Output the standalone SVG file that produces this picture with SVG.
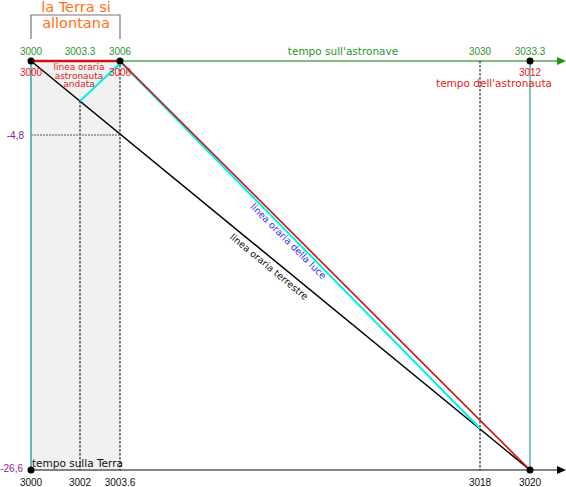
<svg xmlns="http://www.w3.org/2000/svg" width="566" height="487" viewBox="0 0 566 487">
<style>
.num{font-family:"Liberation Sans",Arial,sans-serif;font-size:10px;text-anchor:middle}
.lbl{font-family:"DejaVu Sans",Verdana,sans-serif}
.end{text-anchor:end}
.g{fill:#2b962b}
.r{fill:#dd1c1c}
.p{fill:#8b1a8b}
.k{fill:#111}
.dash{stroke:#000;stroke-width:1;stroke-dasharray:2.5,1.5;fill:none}
.dot{fill:#000}
</style>
<defs>
<marker id="arrG" markerWidth="10" markerHeight="10" refX="0" refY="4" orient="auto" markerUnits="userSpaceOnUse"><path d="M0,0 L9,4 L0,8 Z" fill="#1e961e"/></marker>
<marker id="arrK" markerWidth="10" markerHeight="10" refX="0" refY="4" orient="auto" markerUnits="userSpaceOnUse"><path d="M0,0 L9,4 L0,8 Z" fill="#000"/></marker>
</defs>
<rect width="566" height="487" fill="#fff"/>
<g id="background">
<rect x="31" y="61" width="89" height="409" fill="#f1f1f1"/>
</g>
<g id="axes">
<line x1="31" y1="61" x2="557" y2="61" stroke="#7dbd7d" stroke-width="2" marker-end="url(#arrG)"/>
<line x1="31" y1="470" x2="557" y2="470" stroke="#5a5a5a" stroke-width="1.5" marker-end="url(#arrK)"/>
<line x1="31" y1="61" x2="31" y2="470" stroke="#3aa6a6" stroke-width="1.5"/>
<line x1="530" y1="61" x2="530" y2="470" stroke="#5ab2b2" stroke-width="1.5"/>
<line class="dash" x1="80" y1="101" x2="80" y2="470"/>
<line class="dash" x1="120" y1="61" x2="120" y2="470"/>
<line class="dash" x1="480" y1="61" x2="480" y2="470"/>
<line x1="31" y1="135" x2="120" y2="135" stroke="#888" stroke-width="1.5" stroke-dasharray="2,1"/>
<path d="M31,39 V15 H120 V39" fill="none" stroke="#777" stroke-width="1.2"/>
</g>
<g id="connectors">
<line id="terrestre" x1="31" y1="61" x2="530" y2="470" stroke="#000" stroke-width="1.5"/>
<polyline id="luce" points="80,101 121,62.5 480,428.5" fill="none" stroke="#00f0f0" stroke-width="2"/>
<polyline id="astronauta" points="31,61 120,61 530,470" fill="none" stroke="#cc1111" stroke-width="1.6"/>
<line x1="31" y1="61" x2="120" y2="61" stroke="#cc1111" stroke-width="2.6"/>
</g>
<g id="node-start"><circle class="dot" cx="31" cy="61" r="3.5"/></g>
<g id="node-turn"><circle class="dot" cx="120" cy="61" r="3.5"/></g>
<g id="node-ship-end"><circle class="dot" cx="530" cy="61" r="3.5"/></g>
<g id="node-earth-start"><circle class="dot" cx="31" cy="470" r="3.5"/></g>
<g id="node-earth-end"><circle class="dot" cx="530" cy="470" r="3.5"/></g>
<g id="labels">
<text class="lbl" x="76" y="11.5" font-size="14.5" fill="#ff7020" text-anchor="middle">la Terra si</text>
<text class="lbl" x="76" y="28" font-size="14.5" fill="#ff7020" text-anchor="middle">allontana</text>
<text class="num g" x="31" y="55">3000</text>
<text class="num g" x="80" y="55">3003.3</text>
<text class="num g" x="120" y="55">3006</text>
<text class="num g" x="480" y="55">3030</text>
<text class="num g" x="530" y="55">3033.3</text>
<text class="lbl g" x="343" y="55" font-size="10.5" text-anchor="middle">tempo sull'astronave</text>
<text class="num r" x="31" y="76">3000</text>
<text class="num r" x="120" y="76">3006</text>
<text class="num r" x="530" y="76">3012</text>
<text class="lbl r" x="494" y="87" font-size="10.5" text-anchor="middle">tempo dell'astronauta</text>
<text class="lbl r" font-size="9" text-anchor="middle"><tspan x="79" y="70">linea oraria</tspan><tspan x="79" y="78.5">astronauta</tspan><tspan x="79" y="87">andata</tspan></text>
<text class="num p end" x="24" y="139">-4,8</text>
<text class="num p end" x="23" y="472">-26,6</text>
<text class="num k" x="31" y="485.5">3000</text>
<text class="num k" x="80" y="485.5">3002</text>
<text class="num k" x="120" y="485.5">3003.6</text>
<text class="num k" x="480" y="485.5">3018</text>
<text class="num k" x="530" y="485.5">3020</text>
<text class="lbl k" x="32" y="467" font-size="10.5">tempo sulla Terra</text>
<text class="lbl" font-size="9.5" fill="#3333ee" text-anchor="middle" transform="translate(286,243.5) rotate(45)">linea oraria della luce</text>
<text class="lbl k" font-size="9.5" text-anchor="middle" transform="translate(267,269.3) rotate(39.5)">linea oraria terrestre</text>
</g>
</svg>
